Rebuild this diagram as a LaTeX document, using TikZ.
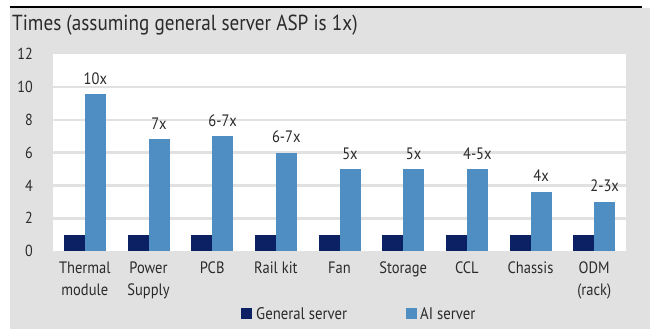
\documentclass[tikz,border=0pt]{standalone}
\usepackage{fontspec}
\setmainfont{PT Sans}[FakeStretch=0.88]
\definecolor{panelgray}{HTML}{E1E1E1}
\definecolor{navybar}{HTML}{0B2164}
\definecolor{bluebar}{HTML}{4F8EC3}
\definecolor{ink}{HTML}{2A2A2A}

\begin{document}
\begin{tikzpicture}[x=1pt,y=-1pt,
  txt/.style={inner sep=0pt, text=ink},
  ticklbl/.style={txt, anchor=east, font=\fontsize{16}{18}\selectfont},
  catlbl/.style={txt, anchor=north, align=center, font=\fontsize{16.5}{22}\selectfont},
  vallbl/.style={txt, anchor=base, font=\fontsize{16.5}{18}\selectfont},
  leglbl/.style={txt, anchor=base west, font=\fontsize{16.8}{18}\selectfont},
  gridline/.style={draw=panelgray, line width=2.6pt},
  genbar/.style={fill=navybar},
  aibar/.style={fill=bluebar}]
\useasboundingbox (0,0) rectangle (655,329);
\fill[white] (0,0) rectangle (655,329);

% grey panel and top rule
\fill[panelgray] (10,8) rectangle (650,329);
\draw[line width=1.3pt, black] (10,7) -- (642,7);

% chart title
\node[txt, anchor=base west, font=\fontsize{21.8}{24}\selectfont] (title) at (12,31) {Times (assuming general server ASP is 1x)};

% plot area: y0 = 251, 16.4 per unit
\fill[white] (53,54) rectangle (626,251);
\foreach \v in {2,4,6,8,10} {
  \draw[gridline] (53,{251-16.4*\v}) -- (626,{251-16.4*\v});
}
\foreach \v in {0,2,4,6,8,10,12} {
  \node[ticklbl] (tick\v) at (33,{251-16.4*\v}) {\v};
}

% bars: index / AI value / label above / category
\foreach \i/\ai/\lbl/\cat in {
  0/9.55/10x/{Thermal\\module},
  1/6.8/7x/{Power\\Supply},
  2/7.0/6-7x/PCB,
  3/6.0/6-7x/Rail kit,
  4/5.0/5x/Fan,
  5/5.0/5x/Storage,
  6/5.0/4-5x/CCL,
  7/3.6/4x/Chassis,
  8/3.0/2-3x/{ODM\\(rack)}} {
  \pgfmathsetmacro{\c}{53+63.67*(\i+0.5)}
  \fill[genbar] ({\c-21},{251-16.4}) rectangle (\c,251);
  \fill[aibar] (\c,{251-16.4*\ai}) rectangle ({\c+21},251);
  \node[vallbl] (val\i) at ({\c+10.5},{251-16.4*\ai-10}) {\lbl};
  \node[catlbl] (cat\i) at (\c,262) {\cat};
}

% legend
\fill[navybar] (241,308) rectangle (252,319);
\node[leglbl] (leggen) at (256,319) {General server};
\fill[bluebar] (406,308) rectangle (417,319);
\node[leglbl] (legai) at (420,319) {AI server};
\end{tikzpicture}
\end{document}
